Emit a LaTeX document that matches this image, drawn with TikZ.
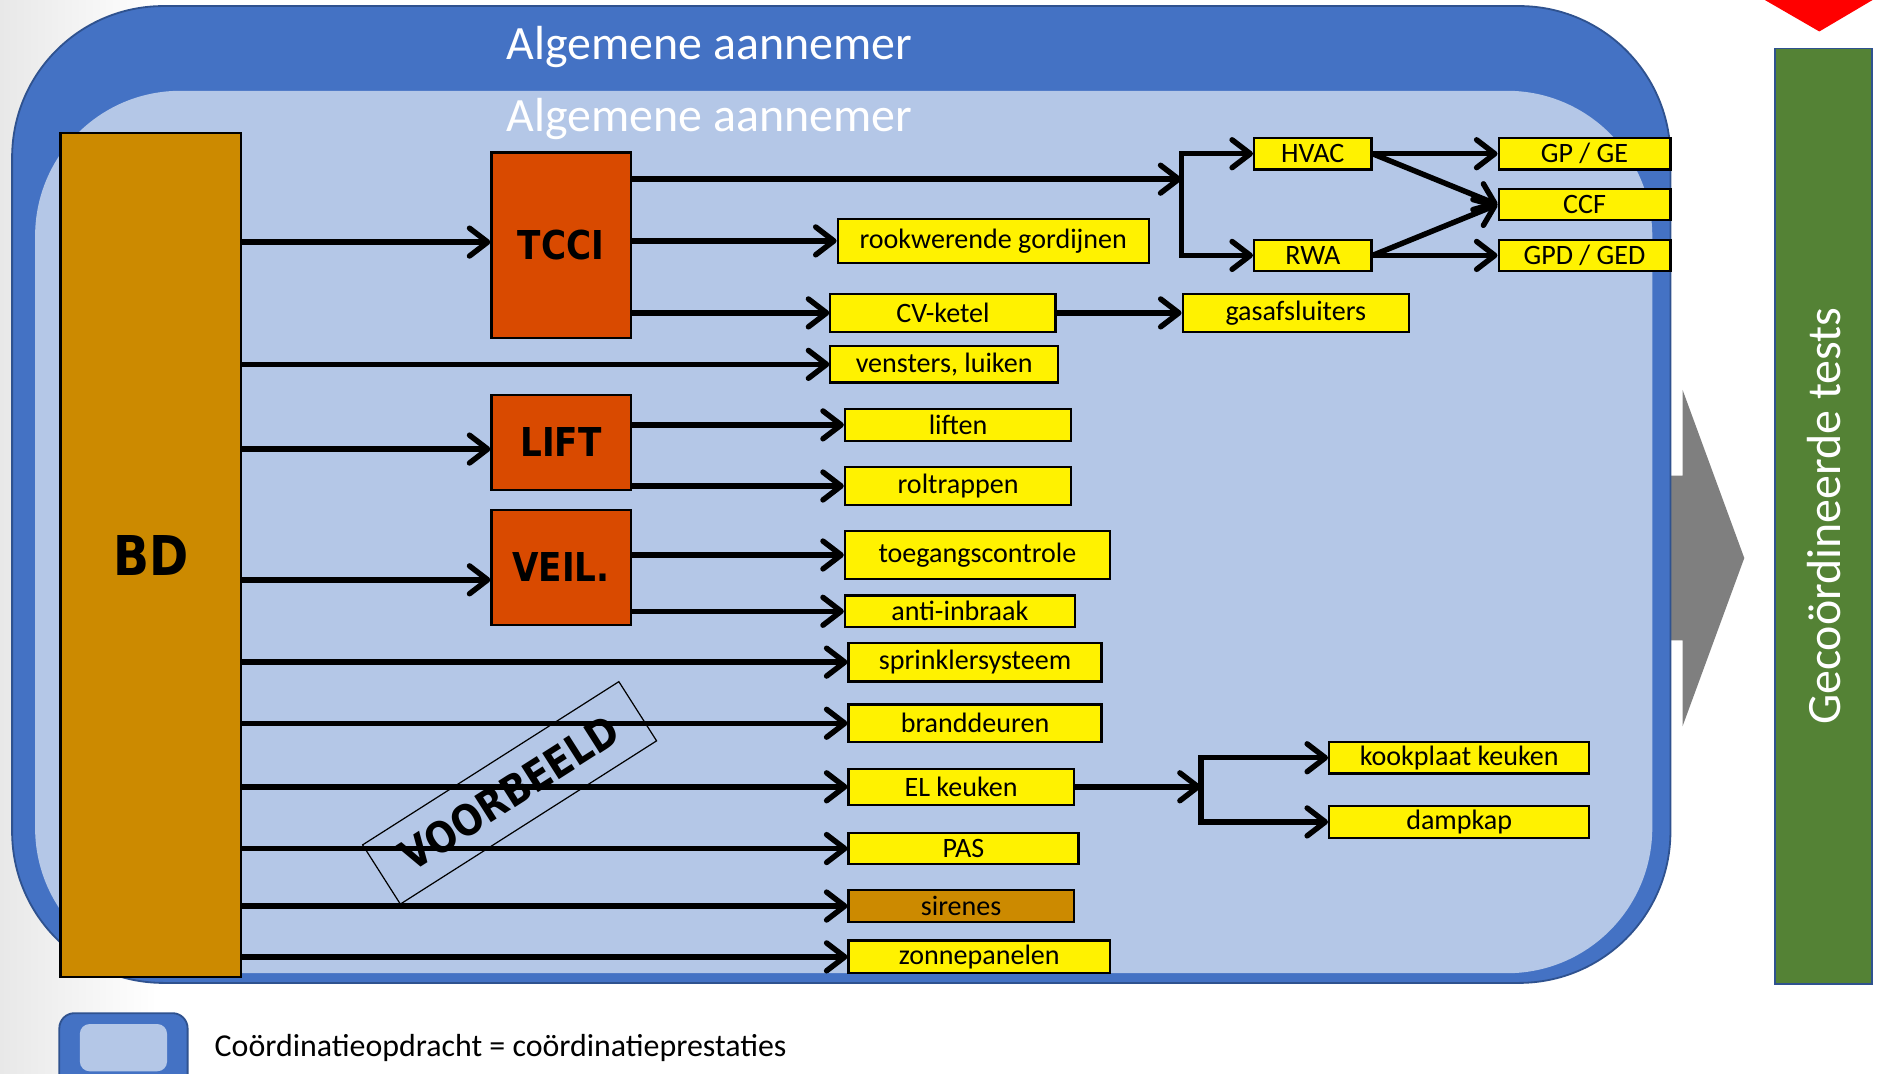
\documentclass[tikz,border=0pt]{standalone}
\usepackage{fontspec}
\setmainfont{Carlito}
\newfontfamily\lblfont{DejaVu Sans}[FakeStretch=0.86]
\usetikzlibrary{arrows.meta}
\definecolor{outerblue}{HTML}{4472C4}
\definecolor{edgeblue}{HTML}{2F528F}
\definecolor{innerblue}{HTML}{B4C7E7}
\definecolor{bdorange}{HTML}{CC8A00}
\definecolor{boxred}{HTML}{D94A00}
\definecolor{testgreen}{HTML}{548235}
\definecolor{arrowgray}{HTML}{7F7F7F}

\begin{document}
\begin{tikzpicture}[x=0.2mm, y=-0.2mm, every node/.style={font=\fontsize{13.2}{15}\selectfont},
	yb/.style={draw, line width=0.35mm, fill=yellow, inner sep=0pt},
	ob/.style={draw, line width=0.35mm, fill=boxred, inner sep=0pt, minimum width=23mm, font=\lblfont\bfseries\fontsize{18.7}{22}\selectfont},
	arr/.style={line width=0.9mm, -{Straight Barb[length=3mm, width=4.6mm, round]}},
	title/.style={text=white, font=\fontsize{22.5}{26}\selectfont}]
	\useasboundingbox (0,0) rectangle (1568,887);
	\shade[left color=black!9, right color=white] (0,0) rectangle (130,887);
	% frame and block arrow
	\fill[arrowgray] (1370,393) -- (1390,393) -- (1390,322) -- (1441,461) -- (1390,600) -- (1390,529) -- (1370,529) -- cycle;
	\draw[edgeblue, fill=outerblue, line width=0.3mm, rounded corners=25mm] (10,5) rectangle (1380,812);
	\fill[innerblue, rounded corners=24mm] (29,75) rectangle (1365,804);
	\node[title] (ga1) at (586,39) {Algemene aannemer};
	\node[title] (ga2) at (586,98) {Algemene aannemer};
	% main blocks
	\node[draw, line width=0.35mm, fill=bdorange, minimum width=29.8mm, minimum height=139.4mm, font=\lblfont\bfseries\fontsize{25.8}{30}\selectfont] (bd) at (124.5,458.5) {BD};
	\node[ob, minimum height=30.6mm] (tcci) at (463.5,202.5) {TCCI};
	\node[ob, minimum height=15.8mm] (lift) at (463.5,365.5) {LIFT};
	\node[ob, minimum height=19mm] (veil) at (463.5,468.5) {VEIL.};
	% installations
	\node[yb, minimum width=51.4mm, minimum height=7.2mm] (rook) at (820.5,199) {rookwerende gordijnen};
	\node[yb, minimum width=37.2mm, minimum height=6.2mm] (cv) at (779,258.5) {CV-ketel};
	\node[yb, minimum width=37.6mm, minimum height=6mm] (vens) at (780,301) {vensters, luiken};
	\node[yb, minimum width=37.4mm, minimum height=6.2mm] (gas) at (1070.5,258.5) {gasafsluiters};
	\node[yb, minimum width=19.4mm, minimum height=5.2mm] (hvac) at (1084.5,127) {HVAC};
	\node[yb, minimum width=19.4mm, minimum height=5.2mm] (rwa) at (1084.5,211) {RWA};
	\node[yb, minimum width=28.4mm, minimum height=5.2mm] (gpge) at (1309,127) {GP / GE};
	\node[yb, minimum width=28.4mm, minimum height=5.2mm] (ccf) at (1309,169) {CCF};
	\node[yb, minimum width=28.4mm, minimum height=5.2mm] (gpd) at (1309,211) {GPD / GED};
	\node[yb, minimum width=37.4mm, minimum height=5.2mm] (liften) at (791.5,351) {liften};
	\node[yb, minimum width=37.4mm, minimum height=6.2mm] (rol) at (791.5,401.5) {roltrappen};
	\node[yb, minimum width=43.8mm, minimum height=7.8mm] (toeg) at (807.5,458.5) {toegangscontrole};
	\node[yb, minimum width=38mm, minimum height=5.2mm] (anti) at (793,505) {anti-inbraak};
	\node[yb, minimum width=41.8mm, minimum height=6.4mm] (sprink) at (805.5,547) {sprinklersysteem};
	\node[yb, minimum width=41.8mm, minimum height=6.2mm] (brand) at (805.5,597.5) {branddeuren};
	\node[yb, minimum width=37.2mm, minimum height=6mm] (el) at (794,650) {EL keuken};
	\node[yb, minimum width=38mm, minimum height=5.2mm] (pas) at (796,701) {PAS};
	\node[yb, fill=bdorange, minimum width=37.2mm, minimum height=5.4mm] (sir) at (794,748.5) {sirenes};
	\node[yb, minimum width=43.2mm, minimum height=5.4mm] (zon) at (809,790.5) {zonnepanelen};
	\node[yb, minimum width=43mm, minimum height=5.2mm] (kook) at (1205.5,626) {kookplaat keuken};
	\node[yb, minimum width=43mm, minimum height=5.2mm] (damp) at (1205.5,679) {dampkap};
	\coordinate (j1) at (976,148);
	\coordinate (j2) at (992,650);
	% connectors
	\foreach \t in {vens,sprink,brand,el,pas,sir,zon} {\draw[arr] (bd.east |- \t) -- (\t);}
	\draw[arr] ([yshift=0.5mm]bd.east |- tcci) -- ([yshift=0.5mm]tcci.west);
	\draw[arr] ([yshift=-1.1mm]bd.east |- lift) -- ([yshift=-1.1mm]lift.west);
	\draw[arr] ([yshift=-2.1mm]bd.east |- veil) -- ([yshift=-2.1mm]veil.west);
	\draw[arr] (tcci.east |- j1) -- (j1);
	\foreach \t in {rook,cv} {\draw[arr] (tcci.east |- \t) -- (\t);}
	\foreach \t in {liften,rol} {\draw[arr] (lift.east |- \t) -- (\t);}
	\foreach \t in {toeg,anti} {\draw[arr] (veil.east |- \t) -- (\t);}
	\draw[arr] (cv) -- (gas);
	\draw[arr] (j1) |- (hvac); \draw[arr] (j1) |- (rwa);
	\draw[arr] (hvac) -- (gpge); \draw[arr] (rwa) -- (gpd);
	\draw[arr] (hvac.east) -- (ccf.west); \draw[arr] (rwa.east) -- (ccf.west);
	\draw[arr] (el) -- (j2);
	\draw[arr] (j2) |- (kook); \draw[arr] (j2) |- (damp);
	% stamp
	\node[draw, line width=0.2mm, rotate=32.5, minimum width=50.2mm, minimum height=11.6mm, font=\lblfont\bfseries\fontsize{20}{24}\selectfont] (stamp) at (421,655) {VOORBEELD};
	% tests column
	\node[draw=edgeblue, line width=0.3mm, fill=testgreen, rotate=90, minimum width=154.6mm, minimum height=16mm, text=white, font=\fontsize{22.5}{26}\selectfont] (tests) at (1506.5,426.5) {Gecoördineerde tests};
	\fill[red] (1458,0) -- (1547,0) -- (1503,26) -- cycle;
	% legend
	\draw[edgeblue, fill=outerblue, line width=0.3mm, rounded corners=2.5mm] (49,837) rectangle (155,900);
	\fill[innerblue, rounded corners=1.6mm] (66,846) rectangle (138,885);
	\node[anchor=west, inner sep=0pt, font=\fontsize{15}{18}\selectfont] (legend) at (177,866) {Coördinatieopdracht = coördinatieprestaties};
\end{tikzpicture}
\end{document}
